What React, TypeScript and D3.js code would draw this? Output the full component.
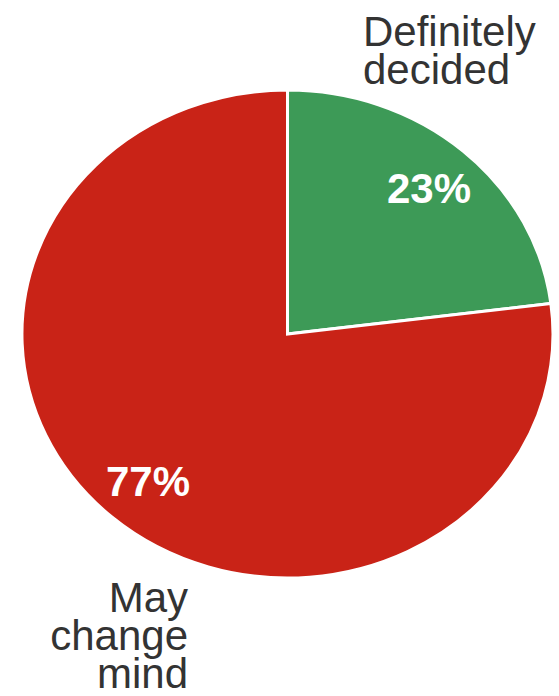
import React from "react";
import * as d3 from "d3";

const categories = ["Definitely decided", "May change mind"];
const values = [23, 77];
const percentLabels = ["23%", "77%"];
const colors = ["#3D9A57", "#C92317"];

const W = 559;
const H = 696;
const cx = 287.5;
const cy = 334;
const rx = 265.5;
const ry = 244;

export default function App() {
  const pie = d3
    .pie<number>()
    .sort(null)
    .value((d) => d)
    .startAngle(0)
    .endAngle(2 * Math.PI);
  const arcs = pie(values);
  const arc = d3.arc<d3.PieArcDatum<number>>().innerRadius(0).outerRadius(1);

  const font = "'Liberation Sans', Arial, Helvetica, sans-serif";

  return (
    <svg
      width={W}
      height={H}
      style={{ position: "absolute", left: 0, top: 0 }}
      viewBox={`0 0 ${W} ${H}`}
    >
      <rect width={W} height={H} fill="#fff" />
      <g transform={`translate(${cx},${cy}) scale(${rx},${ry})`}>
        {arcs.map((a, i) => (
          <path
            key={i}
            d={arc(a) || ""}
            fill={colors[i]}
            stroke="#fff"
            strokeWidth={3}
            vectorEffect="non-scaling-stroke"
            strokeLinejoin="miter"
          />
        ))}
      </g>
      {arcs.map((a, i) => {
        const mid = (a.startAngle + a.endAngle) / 2;
        const r = 0.8;
        const x = cx + rx * r * Math.sin(mid) + 1;
        const y = cy - ry * r * Math.cos(mid);
        return (
          <text
            key={i}
            x={x}
            y={y}
            dy="0.36em"
            textAnchor="middle"
            fill="#fff"
            fontFamily={font}
            fontWeight="bold"
            fontSize={42}
          >
            {percentLabels[i]}
          </text>
        );
      })}
      <text fill="#333" fontFamily={font} fontSize={42} textAnchor="start">
        <tspan x={363} y={46}>Definitely</tspan>
        <tspan x={363} y={84}>decided</tspan>
      </text>
      <text fill="#333" fontFamily={font} fontSize={42} textAnchor="end">
        <tspan x={188} y={612}>May</tspan>
        <tspan x={188} y={650}>change</tspan>
        <tspan x={188} y={688}>mind</tspan>
      </text>
    </svg>
  );
}
